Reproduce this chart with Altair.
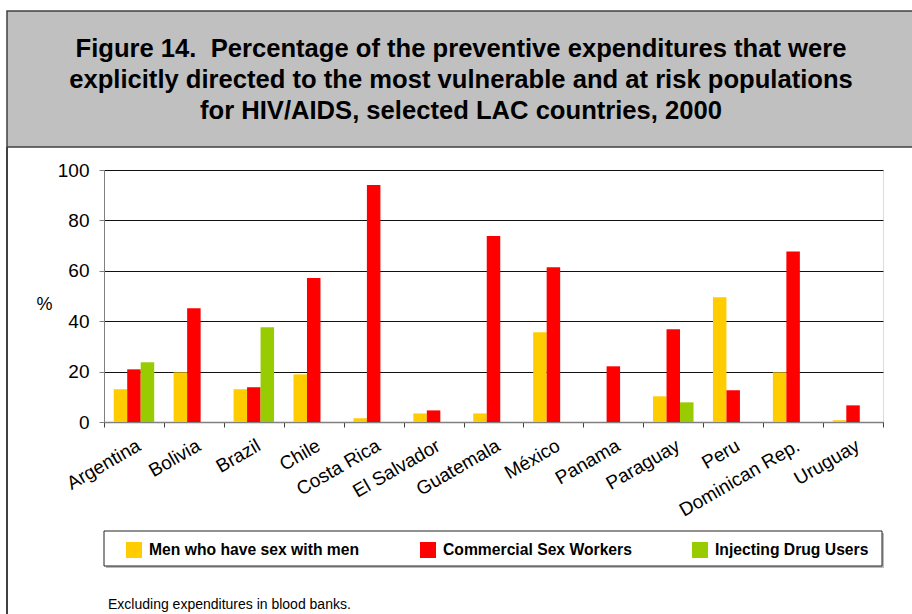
import altair as alt
import pandas as pd

countries = ["Argentina", "Bolivia", "Brazil", "Chile", "Costa Rica", "El Salvador",
             "Guatemala", "México", "Panama", "Paraguay", "Peru", "Dominican Rep.", "Uruguay"]
msm = [13.0, 19.7, 13.0, 18.9, 1.5, 3.4, 3.4, 35.6, None, 10.2, 49.5, 19.7, 0.7]
csw = [20.9, 45.1, 13.8, 57.1, 94.0, 4.6, 73.8, 61.4, 22.1, 36.8, 12.6, 67.7, 6.6]
idu = [23.7, None, 37.6, None, None, None, None, None, None, 7.8, None, None, None]
series_names = ["Men who have sex with men", "Commercial Sex Workers", "Injecting Drug Users"]
series_colors = ["#FFCC00", "#FF0000", "#99CC00"]
y_ticks = [0, 20, 40, 60, 80, 100]
title_lines = ["Figure 14.\u00a0 Percentage of the preventive expenditures that were",
               "explicitly directed to the most vulnerable and at risk populations",
               "for HIV/AIDS, selected LAC countries, 2000"]
footnote = "Excluding expenditures in blood banks."
y_title = "%"

rows = []
for name, vals in zip(series_names, [msm, csw, idu]):
    for c, v in zip(countries, vals):
        if v is not None:
            rows.append({"country": c, "series": name, "value": v})
df = pd.DataFrame(rows)

FONT = "Liberation Sans, Arial, sans-serif"
one = pd.DataFrame({"k": [0]})

title_box = alt.Chart(one).mark_rect(fill="#C0C0C0", stroke="#404040", strokeWidth=1.5).encode(
    x=alt.value(-97), x2=alt.value(830), y=alt.value(-159), y2=alt.value(-23))
left_rule = alt.Chart(one).mark_rule(color="#404040", strokeWidth=2).encode(
    x=alt.value(-97), y=alt.value(-23), y2=alt.value(470))
title_text = alt.Chart(one).mark_text(font=FONT, fontSize=25.6, fontWeight="bold", align="center",
                                      baseline="middle", lineHeight=31, color="black").encode(
    x=alt.value(357), y=alt.value(-121), text=alt.value(title_lines))
legend_shadow = alt.Chart(one).mark_rect(fill="#BBBBBB").encode(
    x=alt.value(2), x2=alt.value(780), y=alt.value(363), y2=alt.value(398))
legend_box = alt.Chart(one).mark_rect(fill="white", stroke="#222222", strokeWidth=1).encode(
    x=alt.value(0), x2=alt.value(778), y=alt.value(361), y2=alt.value(396))
foot = alt.Chart(one).mark_text(font=FONT, fontSize=14, align="left", baseline="middle",
                                color="black").encode(
    x=alt.value(4), y=alt.value(435), text=alt.value(footnote))

bars = alt.Chart(df).mark_bar().encode(
    x=alt.X("country:N", sort=countries, title=None,
            scale=alt.Scale(paddingInner=0, paddingOuter=0),
            axis=alt.Axis(labelAngle=-30, tickBand="extent", domainColor="#808080", domainWidth=1.5,
                          tickColor="#404040", tickSize=5, labelFont=FONT, labelFontSize=19,
                          labelColor="black", labelPadding=9, labelOverlap=False, labelLimit=300,
                          grid=False)),
    xOffset=alt.XOffset("series:N", sort=series_names,
                        scale=alt.Scale(paddingInner=0, paddingOuter=0.72)),
    y=alt.Y("value:Q", scale=alt.Scale(domain=[0, 100], nice=False),
            axis=alt.Axis(values=y_ticks, grid=True, gridColor="#111111", gridWidth=1,
                          domainColor="#808080", tickColor="#808080", tickSize=5,
                          labelFont=FONT, labelFontSize=19, labelColor="black", labelPadding=10,
                          title=y_title, titleAngle=0, titleX=-60, titleY=134, titleAlign="center",
                          titleBaseline="middle", titleFont=FONT, titleFontSize=18,
                          titleFontWeight="normal", titleColor="black")),
    color=alt.Color("series:N", sort=series_names,
                    scale=alt.Scale(domain=series_names, range=series_colors),
                    legend=alt.Legend(title=None, orient="none", legendX=22, legendY=372,
                                      direction="horizontal", symbolType="square", symbolSize=256,
                                      symbolStrokeWidth=0, symbolOpacity=1, labelFont=FONT,
                                      labelFontSize=15.7, labelFontWeight="bold", labelColor="black",
                                      labelOffset=7, columnPadding=60, padding=0, labelLimit=400)),
)

chart = alt.layer(title_box, left_rule, title_text, legend_shadow, legend_box, foot, bars).properties(
    width=779, height=252,
    padding={"left": 104, "top": 170, "right": 29, "bottom": 192},
    autosize=alt.AutoSizeParams(type="none"),
).configure_view(stroke=None).configure(background="white")

chart.save("out.html", embed_options={"renderer": "svg", "actions": False})
